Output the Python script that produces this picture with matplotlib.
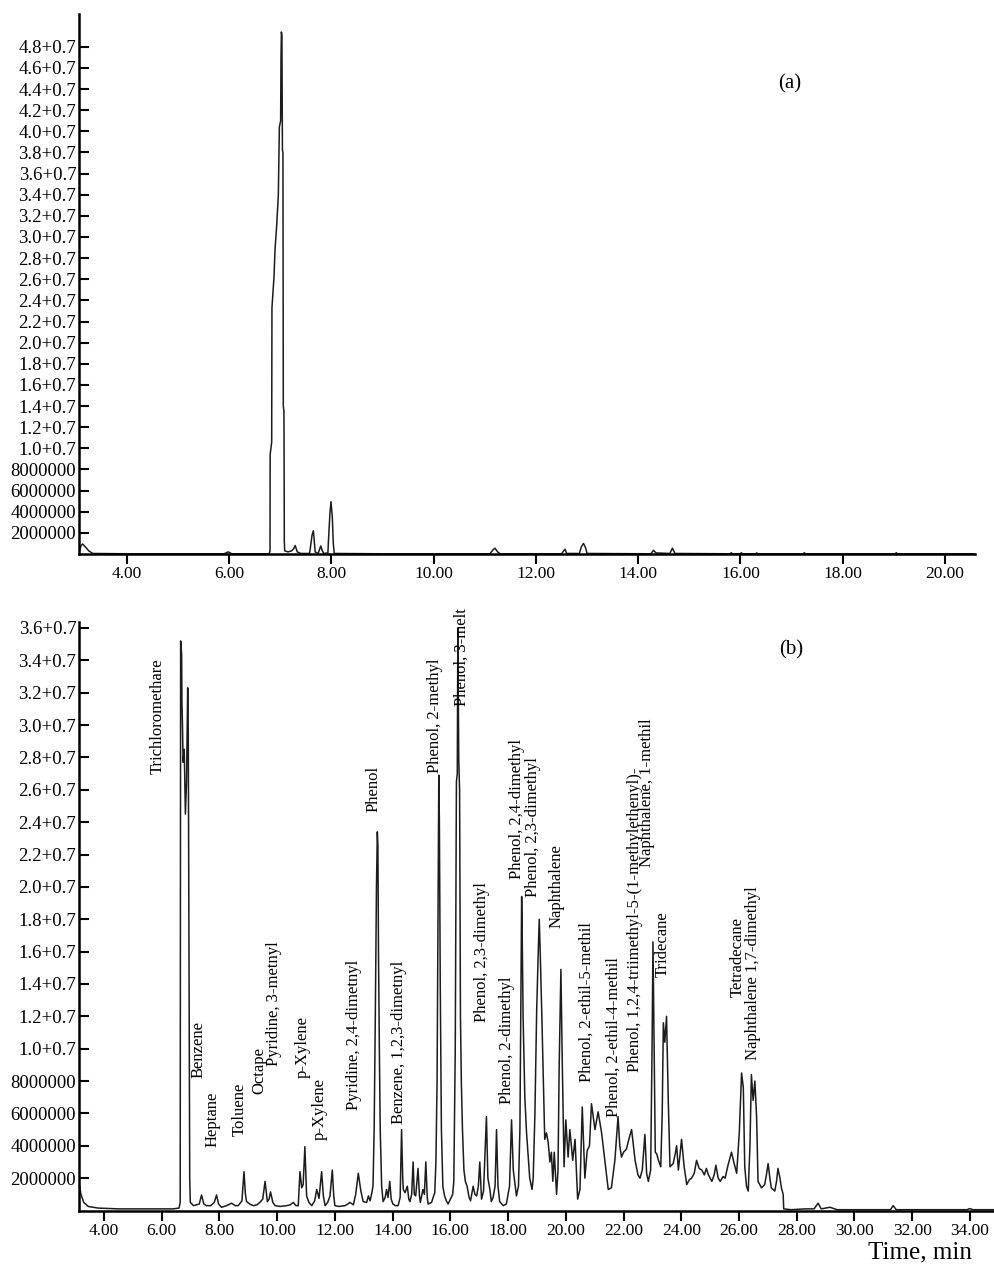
import matplotlib
matplotlib.use("Agg")
import matplotlib.pyplot as plt
import numpy as np

plt.rcParams['font.family'] = ['Liberation Serif', 'DejaVu Serif']

# ---------------- data (intensity in units of 1e6 counts) ----------------
a_time = [3.07, 3.10, 3.13, 3.18, 3.25, 3.33, 4.0, 5.9, 5.98, 6.05, 6.78,
          6.797, 6.80, 6.83, 6.835, 6.875, 6.895, 6.928, 6.96, 6.98, 7.005, 7.012, 7.02, 7.03,
          7.04, 7.05, 7.057, 7.07, 7.077, 7.085, 7.15, 7.22, 7.26, 7.29, 7.33, 7.40,
          7.57, 7.59, 7.62, 7.645, 7.66, 7.68, 7.74, 7.77, 7.79, 7.82, 7.85,
          7.93, 7.94, 7.97, 7.99, 8.016, 8.035, 8.055, 9.0,
          11.1, 11.16, 11.20, 11.25, 11.3, 12.5, 12.55, 12.57, 12.6, 12.85, 12.89, 12.93, 12.97, 13.0,
          14.25, 14.30, 14.35, 14.62, 14.67, 14.72, 15.8, 15.82, 15.84, 16.0, 16.02, 16.04,
          16.3, 16.32, 16.34, 17.23, 17.25, 17.27, 19.03, 19.05, 19.07, 20.6]
a_signal = [0.3, 0.8, 0.95, 0.7, 0.3, 0.05, 0.02, 0.02, 0.2, 0.02, 0.02,
            0.3, 9.4, 10.6, 23.3, 26.2, 28.8, 31.1, 34.0, 40.4, 41.0, 47.0, 49.4, 49.0,
            38.2, 38.0, 14.0, 13.5, 1.2, 0.3, 0.2, 0.3, 0.5, 0.8, 0.2, 0.05,
            0.05, 0.7, 1.8, 2.2, 1.4, 0.2, 0.05, 0.5, 0.76, 0.3, 0.05,
            0.1, 1.2, 3.9, 4.95, 3.5, 1.0, 0.05, 0.02,
            0.02, 0.4, 0.55, 0.2, 0.02, 0.02, 0.35, 0.45, 0.05, 0.05, 0.7, 1.0, 0.6, 0.05,
            0.02, 0.35, 0.1, 0.05, 0.55, 0.05, 0.02, 0.12, 0.02, 0.02, 0.12, 0.02,
            0.02, 0.1, 0.02, 0.02, 0.12, 0.02, 0.02, 0.12, 0.02, 0.02]

b_time = [3.13, 3.20, 3.30, 3.45, 3.8, 4.5, 5.5, 6.4, 6.60,
          6.64, 6.65, 6.655, 6.69, 6.70, 6.72, 6.74, 6.78, 6.82, 6.86, 6.90, 6.92, 6.94, 6.955, 6.97, 6.99,
          7.10, 7.30, 7.38, 7.46, 7.55, 7.70, 7.82, 7.90, 7.97, 8.07, 8.25, 8.42, 8.55, 8.65, 8.78, 8.85,
          8.90, 8.94, 9.05, 9.17, 9.30, 9.40, 9.50, 9.58, 9.66, 9.72, 9.77, 9.85, 9.93, 10.10, 10.33,
          10.45, 10.56, 10.65, 10.73, 10.79, 10.85, 10.90, 10.96, 11.02, 11.10, 11.20, 11.30, 11.37,
          11.45, 11.54, 11.60, 11.66, 11.75, 11.83, 11.91, 11.96, 12.00, 12.15, 12.35, 12.45, 12.52,
          12.64, 12.72, 12.81, 12.90, 12.98, 13.10, 13.16, 13.22, 13.27,
          13.32, 13.36, 13.40, 13.44, 13.47, 13.49, 13.51, 13.54, 13.57, 13.62,
          13.67, 13.74, 13.79, 13.84, 13.90, 13.95, 14.01, 14.10, 14.19, 14.26, 14.31, 14.35, 14.37,
          14.43, 14.51, 14.56, 14.60, 14.66, 14.71, 14.75, 14.80, 14.88, 14.93, 14.96, 15.05, 15.10,
          15.15, 15.20, 15.23, 15.35, 15.42, 15.46, 15.50,
          15.54, 15.57, 15.60, 15.62, 15.65, 15.69, 15.74,
          15.80, 15.86, 15.92, 16.03, 16.08,
          16.12, 16.17, 16.21, 16.24, 16.26, 16.29, 16.32, 16.35, 16.38, 16.42, 16.47, 16.52, 16.58,
          16.65, 16.70, 16.79, 16.85, 16.91, 16.97, 17.02, 17.08, 17.15, 17.25, 17.30, 17.37, 17.42,
          17.48, 17.55, 17.60, 17.65, 17.71, 17.83, 17.94, 18.05, 18.12, 18.18, 18.29, 18.36,
          18.41, 18.44, 18.47, 18.49, 18.52, 18.58, 18.64, 18.75, 18.83,
          18.87, 18.93, 18.99, 19.05, 19.08, 19.12, 19.17, 19.21, 19.27, 19.33, 19.39, 19.45, 19.50,
          19.55, 19.60, 19.68, 19.73,
          19.77, 19.83, 19.88, 19.94, 20.00, 20.08, 20.14, 20.24, 20.32, 20.41, 20.49, 20.57, 20.66,
          20.74, 20.82, 20.89, 21.01, 21.12, 21.24, 21.35, 21.47, 21.58, 21.70, 21.81, 21.87, 21.93,
          22.00, 22.10, 22.20, 22.28, 22.40, 22.50, 22.57, 22.65, 22.74, 22.80, 22.86, 22.94,
          22.99, 23.02, 23.06, 23.10, 23.15, 23.21, 23.29, 23.34, 23.38, 23.43, 23.49, 23.55, 23.61,
          23.72, 23.79, 23.84, 23.90, 23.96, 24.01, 24.10, 24.19, 24.28, 24.36, 24.45, 24.53, 24.62,
          24.71, 24.80, 24.87, 24.94, 25.06, 25.14, 25.20, 25.28, 25.35, 25.45, 25.52, 25.62, 25.74,
          25.82, 25.92, 26.01,
          26.09, 26.15, 26.20, 26.26, 26.32, 26.38, 26.43, 26.49, 26.55, 26.61, 26.66, 26.72, 26.78,
          26.89, 26.95, 27.01, 27.07, 27.12, 27.24, 27.30, 27.35, 27.42, 27.47, 27.53, 27.55,
          27.8, 28.3, 28.6, 28.74, 28.85, 29.15, 29.4, 30.5, 31.25, 31.34, 31.45, 33.9, 34.0, 34.1, 34.9]
b_signal = [1.8, 1.0, 0.5, 0.25, 0.15, 0.1, 0.1, 0.1, 0.15,
            0.5, 22.0, 35.2, 34.4, 31.5, 29.9, 27.7, 28.5, 24.5, 26.5, 32.3, 29.5, 18.0, 8.0, 2.0, 0.5,
            0.3, 0.4, 0.96, 0.4, 0.3, 0.3, 0.5, 0.96, 0.4, 0.2, 0.3, 0.45, 0.3, 0.3, 0.6, 2.4,
            1.0, 0.55, 0.4, 0.3, 0.35, 0.5, 0.7, 1.8, 0.55, 0.7, 1.15, 0.5, 0.3, 0.25, 0.3,
            0.35, 0.5, 0.3, 0.3, 2.4, 1.4, 1.6, 3.95, 0.9, 0.5, 0.3, 0.6, 1.3,
            0.75, 2.4, 0.9, 0.3, 0.5, 0.9, 2.5, 0.9, 0.3, 0.25, 0.3, 0.4, 0.5,
            0.35, 1.0, 2.3, 1.2, 0.55, 0.5, 0.9, 0.6, 1.0,
            1.5, 5.0, 12.0, 20.0, 23.4, 22.5, 16.0, 10.0, 5.0, 1.5,
            0.55, 0.8, 1.3, 0.8, 1.8, 0.7, 0.4, 0.3, 0.3, 0.8, 5.0, 2.0, 1.3,
            1.1, 1.5, 0.7, 0.55, 1.0, 3.0, 1.0, 0.9, 2.6, 0.9, 0.5, 1.3, 1.0,
            3.0, 0.8, 0.4, 0.5, 0.9, 1.1, 3.0,
            8.0, 18.0, 26.9, 24.0, 14.0, 5.0, 1.5,
            0.9, 0.6, 0.4, 0.8, 1.0,
            1.8, 10.0, 26.5, 27.0, 36.0, 28.0, 26.0, 12.0, 8.0, 5.0, 2.5, 1.8, 1.5,
            0.8, 0.6, 1.5, 1.0, 0.9, 1.5, 3.0, 0.7, 1.2, 5.8, 2.0, 1.3, 0.55,
            0.8, 1.5, 5.0, 1.5, 0.55, 0.3, 0.4, 1.5, 5.6, 2.5, 0.9, 1.5,
            5.0, 12.0, 19.4, 17.0, 12.0, 7.0, 4.8, 2.0, 1.3,
            2.0, 6.0, 12.3, 16.3, 18.0, 15.5, 12.0, 8.9, 4.4, 4.8, 4.2, 3.0, 3.6,
            1.8, 3.6, 1.0, 2.5,
            8.9, 14.9, 8.9, 2.7, 5.6, 3.3, 5.0, 3.1, 4.4, 0.7, 1.3, 6.4, 2.0,
            3.7, 4.0, 6.6, 5.0, 6.1, 4.8, 3.1, 1.3, 1.4, 3.1, 5.8, 4.0, 3.3,
            3.6, 3.8, 4.5, 5.0, 3.1, 2.2, 2.0, 2.5, 4.7, 2.3, 1.8, 2.5,
            10.4, 16.6, 9.9, 3.6, 3.5, 3.1, 2.7, 6.0, 11.6, 10.4, 12.0, 6.8, 2.7,
            2.9, 3.5, 4.0, 2.5, 3.5, 4.4, 2.7, 1.6, 1.9, 2.0, 2.3, 3.1, 2.6,
            2.5, 2.2, 2.6, 2.2, 1.8, 2.2, 2.8, 2.0, 1.8, 2.1, 2.0, 2.8, 3.6,
            3.0, 2.3, 4.8,
            8.5, 7.6, 2.7, 1.5, 1.2, 4.0, 8.4, 6.8, 8.0, 5.8, 1.8, 1.6, 1.4,
            1.6, 2.2, 2.9, 2.0, 1.4, 1.2, 1.8, 2.6, 2.0, 1.4, 1.0, 0.1,
            0.05, 0.1, 0.1, 0.45, 0.1, 0.2, 0.05, 0.05, 0.05, 0.3, 0.05, 0.05, 0.12, 0.05, 0.05]

a_xticks = [4, 6, 8, 10, 12, 14, 16, 18, 20]
b_xticks = list(range(4, 36, 2))
a_yticks_m = list(range(2, 50, 2))
b_yticks_m = list(range(2, 38, 2))

# compound labels: (name, retention time of label, label base level in 1e6)
b_labels = [
    ("Trichloromethare", 5.86, 27.0),
    ("Benzene", 7.27, 8.17),
    ("Heptane", 7.77, 3.94),
    ("Toluene", 8.71, 4.60),
    ("Octape", 9.40, 7.20),
    ("Pyridine, 3-metnyl", 9.89, 8.95),
    ("p-Xylene", 10.88, 8.17),
    ("p-Xylene", 11.46, 4.36),
    ("Pyridine, 2,4-dimetnyl", 12.66, 6.21),
    ("Phenol", 13.33, 24.65),
    ("Benzene, 1,2,3-dimetnyl", 14.23, 5.35),
    ("Phenol, 2-methyl", 15.47, 27.02),
    ("Phenol, 3-melt", 16.39, 31.18),
    ("Phenol, 2,3-dimethyl", 17.08, 11.67),
    ("Phenol, 2-dimethyl", 17.95, 6.58),
    ("Phenol, 2,4-dimethyl", 18.30, 20.47),
    ("Phenol, 2,3-dimethyl", 18.87, 19.39),
    ("Naphthalene", 19.68, 17.46),
    ("Phenol, 2-ethil-5-methil", 20.72, 7.96),
    ("Phenol, 2-ethil-4-methil", 21.64, 5.76),
    ("Phenol, 1,2,4-triimethyl-5-(1-methylethenyl)-", 22.39, 8.58),
    ("Naphthalene, 1-methil", 22.80, 21.25),
    ("Tridecane", 23.35, 14.41),
    ("Tetradecane", 25.97, 13.21),
    ("Naphthalene 1,7-dimethyl", 26.49, 9.30),
]


def ylab(v):
    if v >= 1e7:
        return f"{v / 1e7:.1f}+0.7"
    return f"{int(v)}"


W, H = 995, 1264
fig = plt.figure(figsize=(W / 100, H / 100), dpi=100)
ax_a = fig.add_axes([79 / W, 1 - 554 / H, (975 - 79) / W, (554 - 14) / H])
ax_b = fig.add_axes([79 / W, 1 - 1210.5 / H, (995 - 79) / W, (1210.5 - 622) / H])

lc = '#1c1c1c'
ax_a.plot(a_time, np.array(a_signal) * 1e6, color=lc, lw=1.1)
ax_b.plot(b_time, np.array(b_signal) * 1e6, color=lc, lw=1.1)

for ax, xt, yt, xl, yl in [(ax_a, a_xticks, a_yticks_m, (3.06, 20.59), 51.1e6),
                           (ax_b, b_xticks, b_yticks_m, (3.134, 34.87), 36.37e6)]:
    ax.set_xlim(*xl)
    ax.set_ylim(0, yl)
    ax.set_xticks(xt)
    ax.set_xticklabels([f"{v:.2f}" for v in xt], fontsize=12.5)
    yv = [v * 1e6 for v in yt]
    ax.set_yticks(yv)
    ax.set_yticklabels([ylab(v) for v in yv], fontsize=13.5)
    for s in ('top', 'right'):
        ax.spines[s].set_visible(False)
    for s in ('left', 'bottom'):
        ax.spines[s].set_linewidth(1.8)
        ax.spines[s].set_color('black')
    ax.tick_params(axis='y', direction='in', length=7, width=1.5, pad=2)
    ax.tick_params(axis='x', direction='out', length=7, width=1.5, pad=2)

ax_a.text(0.793, 0.870, "(a)", transform=ax_a.transAxes, fontsize=15,
          ha='center', va='center')
ax_b.text(0.778, 0.952, "(b)", transform=ax_b.transAxes, fontsize=15,
          ha='center', va='center')

for name, t, lv in b_labels:
    ax_b.text(t, lv * 1e6, name, rotation=90, ha='center', va='bottom',
              fontsize=12, rotation_mode='default')

fig.text(972 / W, 1 - 1258 / H, "Time, min", fontsize=18, ha='right', va='baseline')

fig.savefig("out.png", dpi=100)
